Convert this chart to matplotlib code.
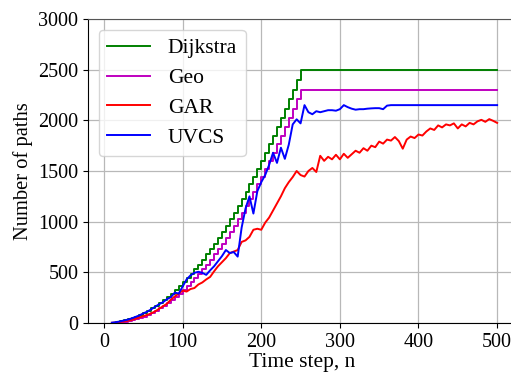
import numpy as np
import matplotlib
matplotlib.use("Agg")
import matplotlib.pyplot as plt

plt.rcParams['font.family'] = ['Liberation Serif', 'DejaVu Serif']

# ---- data (time step starts at 10, every 5 steps) ----
n_start, n_step = 10, 5

dijkstra = [4, 9, 16, 25, 36, 49, 64, 81, 100, 121, 144, 169, 196, 225, 256, 289, 324, 361,
            400, 441, 484, 529, 576, 625, 676, 729, 784, 841, 900, 961, 1024, 1089, 1156,
            1225, 1296, 1369, 1444, 1521, 1600, 1681, 1764, 1849, 1936, 2025, 2116, 2209,
            2304, 2401, 2500, 2500]
dijkstra_n = list(range(10, 255, 5)) + [500]

geo = [0, 1, 4, 9, 16, 25, 36, 49, 64, 81, 100, 121, 144, 169, 196, 225, 256, 289, 324,
       361, 400, 441, 484, 529, 576, 625, 676, 729, 784, 841, 900, 961, 1024, 1089, 1156,
       1225, 1296, 1369, 1444, 1521, 1600, 1681, 1764, 1849, 1936, 2025, 2116, 2209, 2300,
       2300]
geo_n = list(range(10, 255, 5)) + [500]

gar = [2, 5, 10, 15, 22, 30, 42, 55, 68, 80, 95, 115, 140, 165, 190, 230, 262, 290, 320,
       310, 335, 345, 380, 400, 430, 455, 510, 560, 600, 640, 690, 705, 720, 800, 815, 850,
       920, 930, 920, 990, 1040, 1110, 1180, 1250, 1330, 1390, 1440, 1500, 1460, 1445, 1500,
       1530, 1490, 1650, 1600, 1640, 1615, 1660, 1615, 1670, 1630, 1665, 1700, 1680, 1725,
       1700, 1750, 1735, 1790, 1770, 1810, 1800, 1835, 1795, 1720, 1810, 1840, 1825, 1860,
       1850, 1890, 1920, 1905, 1950, 1930, 1960, 1950, 1970, 1920, 1960, 1940, 1975, 1960,
       1990, 2005, 1985, 2012, 1995, 1975]

uvcs = [3, 8, 15, 24, 33, 45, 60, 75, 95, 112, 135, 160, 185, 205, 235, 255, 300, 290, 360,
        430, 470, 495, 505, 495, 475, 520, 560, 610, 660, 720, 690, 700, 655, 940, 1130, 1250,
        1080, 1300, 1390, 1460, 1560, 1680, 1580, 1730, 1620, 1760, 1960, 2010, 1970, 2150,
        2080, 2060, 2090, 2080, 2090, 2100, 2100, 2095, 2110, 2150, 2130, 2115, 2105, 2110,
        2110, 2115, 2118, 2120, 2120, 2110, 2145, 2150, 2150,
        2150, 2150, 2150, 2150, 2150, 2150, 2150, 2150, 2150, 2150, 2150, 2150, 2150,
        2150, 2150, 2150, 2150, 2150, 2150, 2150, 2150, 2150, 2150, 2150, 2150, 2150]

labels = ["Dijkstra", "Geo", "GAR", "UVCS"]
colors = ["green", "m", "red", "blue"]
xticks = [0, 100, 200, 300, 400, 500]
yticks = [0, 500, 1000, 1500, 2000, 2500, 3000]

gar_n = np.arange(n_start, n_start + n_step * len(gar), n_step)
uvcs_n = np.arange(n_start, n_start + n_step * len(uvcs), n_step)

fig = plt.figure(figsize=(5.11, 3.74), dpi=100)
ax = fig.add_axes([0.1722, 0.1364, 0.84, 0.8128])

ax.step(dijkstra_n, dijkstra, where='post', color=colors[0], lw=1.4, label=labels[0])
ax.step(geo_n, geo, where='post', color=colors[1], lw=1.4, label=labels[1])
ax.plot(gar_n, gar, color=colors[2], lw=1.4, label=labels[2])
ax.plot(uvcs_n, uvcs, color=colors[3], lw=1.4, label=labels[3])

ax.set_xlim(-20.4, 525.6)
ax.set_ylim(0, 3000)
ax.set_xticks(xticks)
ax.set_yticks(yticks)
ax.tick_params(labelsize=14.5)
ax.grid(True, color='#b8b8b8', lw=0.9)
ax.set_axisbelow(True)
ax.set_xlabel("Time step, n", fontsize=15.5, labelpad=1)
ax.set_ylabel("Number of paths", fontsize=14.8, labelpad=4)
ax.spines['top'].set_color('#555555')
ax.spines['right'].set_visible(False)
ax.legend(loc='upper left', fontsize=15.5, handlelength=2.0, labelspacing=0.45,
          framealpha=0.8, edgecolor='#cccccc')

fig.savefig("out.png", dpi=100)
